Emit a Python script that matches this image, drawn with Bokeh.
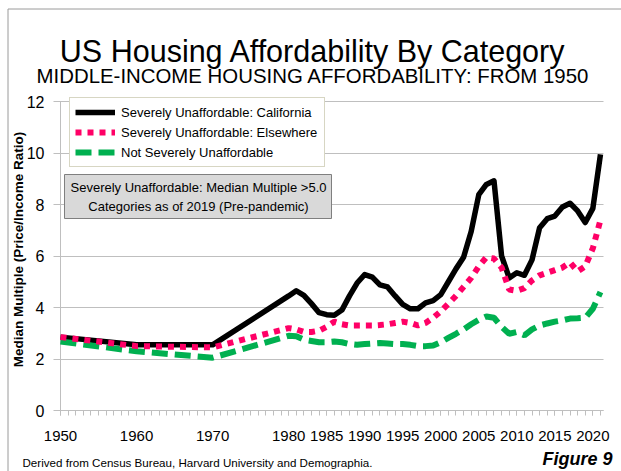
from math import pi
from bokeh.plotting import figure
from bokeh.models import (Range1d, FixedTicker, Label, Legend, LegendItem, BoxAnnotation)
from bokeh.embed import file_html
from bokeh.resources import INLINE

# ---------------- data ----------------
years = [1950, 1960, 1970,
         1980, 1981, 1982, 1983, 1984, 1985, 1986, 1987, 1988, 1989,
         1990, 1991, 1992, 1993, 1994, 1995, 1996, 1997, 1998, 1999,
         2000, 2001, 2002, 2003, 2004, 2005, 2006, 2007, 2008, 2009,
         2010, 2011, 2012, 2013, 2014, 2015, 2016, 2017, 2018, 2019,
         2020, 2021]

california = [2.85, 2.55, 2.55,
              4.45, 4.65, 4.47, 4.15, 3.80, 3.72, 3.70, 3.90, 4.45, 4.95,
              5.28, 5.18, 4.88, 4.80, 4.45, 4.12, 3.95, 3.95, 4.18, 4.27,
              4.50, 5.00, 5.50, 5.95, 6.95, 8.38, 8.78, 8.92, 6.00, 5.15,
              5.35, 5.25, 5.85, 7.10, 7.45, 7.55, 7.90, 8.05, 7.75, 7.30,
              7.85, 9.95]

elsewhere = [2.85, 2.50, 2.45,
             3.20, 3.15, 3.05, 3.05, 3.10, 3.25, 3.45, 3.35, 3.30, 3.30,
             3.30, 3.30, 3.32, 3.35, 3.40, 3.45, 3.40, 3.30, 3.40, 3.60,
             3.85, 4.15, 4.45, 4.80, 5.15, 5.60, 5.95, 5.90, 5.55, 4.70,
             4.65, 4.75, 5.05, 5.25, 5.35, 5.45, 5.55, 5.75, 5.40, 5.60,
             6.30, 7.40]

not_severe = [2.68, 2.30, 2.05,
              2.90, 2.88, 2.75, 2.70, 2.65, 2.65, 2.68, 2.65, 2.58, 2.55,
              2.58, 2.60, 2.62, 2.60, 2.58, 2.58, 2.55, 2.50, 2.50, 2.52,
              2.65, 2.82, 2.98, 3.15, 3.35, 3.52, 3.65, 3.60, 3.25, 2.98,
              3.05, 2.92, 3.15, 3.30, 3.38, 3.45, 3.50, 3.57, 3.58, 3.60,
              3.95, 4.60]

x_tick_years = [1950, 1960, 1970, 1980, 1985, 1990, 1995, 2000, 2005, 2010, 2015, 2020]
y_ticks = [0, 2, 4, 6, 8, 10, 12]

series_names = ["Severely Unaffordable: California",
                "Severely Unaffordable: Elsewhere",
                "Not Severely Unaffordable"]

title_text = "US Housing Affordability By Category"
subtitle_text = "MIDDLE-INCOME HOUSING AFFORDABILITY: FROM 1950"
y_label_text = "Median Multiple (Price/Income Ratio)"
note_lines = ["Severely Unaffordable: Median Multiple >5.0",
              "Categories as of 2019 (Pre-pandemic)"]
source_text = "Derived from Census Bureau, Harvard University and Demographia."
figure_text = "Figure 9"

# ---------------- layout ----------------
W, H = 621, 471
# plot-area edges in canvas px
PL, PR, PT, PB = 60, 603, 101, 410
XA, XB = 1950, 2021.4      # x extent of the plot area
YA, YB = 0, 12             # y extent of the plot area
kx = (XB - XA) / (PR - PL)
ky = (YB - YA) / (PB - PT)
X0, X1 = XA - PL * kx, XA + (W - PL) * kx
Y0, Y1 = YA - (H - PB) * ky, YB + PT * ky

SANS = "Liberation Sans, Arial, sans-serif"


def dx(px):
    """canvas x pixel -> data x"""
    return X0 + px * kx


def dy(py):
    """canvas y pixel -> data y"""
    return Y1 - py * ky


p = figure(width=W, height=H, x_range=Range1d(X0, X1), y_range=Range1d(Y0, Y1),
           output_backend="svg", toolbar_location=None, title=None,
           min_border=0, min_border_left=0, min_border_right=0,
           min_border_top=0, min_border_bottom=0)
p.outline_line_color = None
p.background_fill_color = "white"
p.border_fill_color = "white"
p.xgrid.visible = False
p.ygrid.visible = False

# axes drawn at fixed places inside the frame
xa = p.xaxis[0]
xa.fixed_location = YA
xa.bounds = (XA, XB)
xa.ticker = FixedTicker(ticks=x_tick_years, minor_ticks=list(range(1950, 2022)))
xa.axis_line_color = "#bfbfbf"
xa.major_tick_line_color = "#bfbfbf"
xa.minor_tick_line_color = "#bfbfbf"
xa.major_tick_in = 0
xa.major_tick_out = 5
xa.minor_tick_in = 0
xa.minor_tick_out = 5
xa.major_label_standoff = 15
xa.major_label_text_font = SANS
xa.major_label_text_font_size = "15px"
xa.major_label_text_color = "black"
xa.level = "underlay"

ya = p.yaxis[0]
ya.fixed_location = XA
ya.bounds = (YA, YB)
ya.ticker = FixedTicker(ticks=y_ticks, minor_ticks=[])
ya.axis_line_color = "#bfbfbf"
ya.major_tick_line_color = "#bfbfbf"
ya.major_tick_in = PR - PL      # ticks run across the plot as grid lines
ya.major_tick_out = 7
ya.minor_tick_line_color = None
ya.major_label_standoff = 9
ya.major_label_text_font = SANS
ya.major_label_text_font_size = "16px"
ya.major_label_text_color = "black"
ya.level = "underlay"

# series
r_ca = p.line(years, california, line_color="black", line_width=5.5, line_join="round")
r_ns = p.line(years, not_severe, line_color="#00b050", line_width=6, line_dash="16 7")
r_el = p.line(years, elsewhere, line_color="#ff0066", line_width=6, line_dash="6 6")

legend = Legend(items=[LegendItem(label=series_names[0], renderers=[r_ca]),
                       LegendItem(label=series_names[1], renderers=[r_el]),
                       LegendItem(label=series_names[2], renderers=[r_ns])],
                location=(69, H - 167), orientation="vertical",
                border_line_color="#b0ae88", border_line_width=1,
                background_fill_color="white", background_fill_alpha=1,
                label_text_font=SANS, label_text_font_size="13px",
                label_text_color="black",
                glyph_width=40, glyph_height=18, label_height=18,
                label_standoff=6, label_width=198, padding=5, spacing=2, margin=0)
p.add_layout(legend, "center")

# note box
p.add_layout(BoxAnnotation(left=dx(64), right=dx(331), top=dy(174), bottom=dy(218),
                           fill_color="#d9d9d9", fill_alpha=1,
                           line_color="#7f7f7f", line_alpha=1, line_width=1))
for i, line in enumerate(note_lines):
    p.add_layout(Label(x=dx(198), y=dy(187 + 19 * i), text=line,
                       text_align="center", text_baseline="middle",
                       text_font=SANS, text_font_size="13px", text_color="black"))

# thin page border (top and left edges)
p.add_layout(BoxAnnotation(left=dx(7.5), right=dx(W + 10), top=dy(8.5), bottom=dy(H + 10),
                           fill_alpha=0, line_color="#9a9a9a", line_alpha=1, line_width=1))

# titles and other texts
p.add_layout(Label(x=dx(312.5), y=dy(50), text=title_text, text_align="center",
                   text_baseline="alphabetic", text_font=SANS, text_font_size="30.5px",
                   text_color="black"))
p.add_layout(Label(x=dx(312.5), y=dy(75), text=subtitle_text, text_align="center",
                   text_baseline="alphabetic", text_font=SANS, text_font_size="20.4px",
                   text_color="black"))
p.add_layout(Label(x=dx(18), y=dy(249), text=y_label_text, angle=pi / 2,
                   text_align="center", text_baseline="middle", text_font=SANS,
                   text_font_size="13.5px", text_font_style="bold", text_color="black"))
p.add_layout(Label(x=dx(22), y=dy(462), text=source_text, text_align="left",
                   text_baseline="middle", text_font=SANS, text_font_size="11.6px",
                   text_color="black"))
p.add_layout(Label(x=dx(612), y=dy(458), text=figure_text, text_align="right",
                   text_baseline="middle", text_font=SANS, text_font_size="18px",
                   text_font_style="bold italic", text_color="black"))

open("out.html", "w").write(file_html(p, INLINE))
